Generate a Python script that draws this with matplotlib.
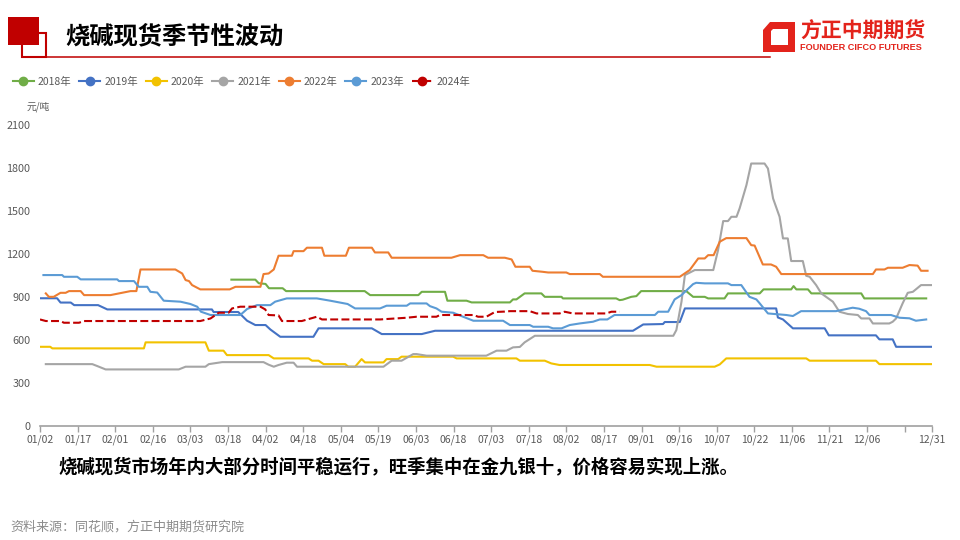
import matplotlib
matplotlib.use("Agg")
import matplotlib.pyplot as plt
from matplotlib.lines import Line2D
from matplotlib.patches import Rectangle, Polygon

plt.rcParams['font.family'] = ['Noto Sans CJK SC', 'DejaVu Sans']

# x axis: trading-day index, one label every 11 days
tick_pos = [0, 11, 22, 33, 44, 55, 66, 77, 88, 99, 110, 121, 132, 143, 154, 165,
            176, 187, 198, 209, 220, 231, 242, 253, 261]
tick_labels = ["01/02", "01/17", "02/01", "02/16", "03/03", "03/18", "04/02", "04/18",
               "05/04", "05/19", "06/03", "06/18", "07/03", "07/18", "08/02", "08/17",
               "09/01", "09/16", "10/07", "10/22", "11/06", "11/21", "12/06", "", "12/31"]

# series (break points), 元/吨
x_2018 = [56, 63, 64, 66, 67, 71, 72, 95, 96.6, 110.7, 111.7, 118.5, 119.2, 124.8, 126.3,
          137.5, 138.4, 139.4, 141.8, 146.7, 147.7, 152.6, 153, 168.6, 169.6, 170.5, 173,
          174.5, 175.9, 189.1, 191.1, 194.5, 195.5, 200.3, 201.3, 210.6, 211.7, 219.8,
          220.5, 221.3, 224.7, 225.7, 240.3, 241.2, 259.3]
y_2018 = [1020, 1020, 995, 990, 960, 960, 940, 940, 912, 912, 935, 935, 873, 873, 861,
          861, 882, 882, 924, 924, 900, 900, 889, 889, 877, 880, 900,
          905, 940, 940, 900, 900, 889, 889, 924, 924, 952, 952,
          975, 952, 952, 924, 924, 889, 889]

x_2019 = [0, 5, 6, 9, 10, 17, 19.7, 50.3, 50.8, 58, 60.6, 63, 66, 67.4, 70.3, 80, 81.5,
          97.1, 100, 111.7, 115.6, 173.5, 176.5, 182.3, 182.8, 187.2, 188.7, 215.4, 215.9,
          217.4, 220.3, 229.6, 230.8, 244.6, 245.6, 249.5, 250.5, 260.7]
y_2019 = [890, 890, 860, 860, 842, 842, 812, 812, 794, 794, 733, 703, 703, 672, 621, 621, 680,
          680, 640, 640, 663, 663, 707, 710, 724, 724, 819, 819, 756,
          742, 680, 680, 631, 631, 603, 603, 551, 551]

x_2020 = [0, 3, 3.6, 30.4, 30.9, 48.4, 49.4, 53.7, 54.7, 66.9, 68.4, 78.6, 79.6, 81.5, 83,
          89.3, 90.2, 92.2, 94.1, 95.1, 100.5, 101.4, 104.8, 105.8, 120.9, 121.9, 139.4,
          140.4, 147.7, 149.6, 152, 178.4, 180.4, 197.4, 198.9, 200.8, 224.2, 225.2,
          244.6, 245.6, 260.7]
y_2020 = [551, 551, 540, 540, 582, 582, 524, 524, 493, 493, 470, 470, 454, 454, 430,
          430, 412, 412, 465, 442, 442, 465, 465, 482, 482, 470, 470,
          454, 454, 435, 424, 424, 412, 412, 428, 470, 470, 454,
          454, 430, 430]

x_2021 = [1.7, 15.3, 16.7, 19.2, 40.6, 42.6, 48.4, 49.4, 53.3, 65.4, 66.9, 68.4, 69.8, 72.2,
          74.2, 75.2, 100.5, 102.9, 105.8, 109.2, 110.2, 113.1, 130.6, 133.6, 136.5, 138.4,
          140.4, 141.8, 144.8, 185.3, 186.2, 187.7, 188.7, 191.6, 197, 198.4, 199.9, 201.3,
          202.3, 203.8, 204.7, 206.7, 208.1, 212, 213, 214.5, 216.4, 217.4, 218.8, 219.8,
          223.2, 224.2, 225.2, 227.1, 228.6, 230, 232, 233.9, 236.4, 239.3, 240.3, 242.7,
          243.7, 248.5, 249.5, 250.5, 252.4, 253.9, 255.4, 257.8, 260.7]
y_2021 = [430, 430, 417, 393, 393, 412, 412, 430, 444, 444, 426, 412, 424, 440,
          440, 412, 412, 454, 454, 500, 500, 489, 489, 524, 524, 547,
          550, 582, 628, 628, 668, 866, 1052, 1087, 1087, 1226, 1429, 1429,
          1459, 1459, 1517, 1680, 1831, 1831, 1796, 1587, 1459, 1308, 1308, 1150,
          1150, 1047, 1040, 982, 924, 900, 866, 796, 780, 773, 749, 749,
          714, 714, 726, 749, 854, 928, 935, 982, 982]

x_2022 = [1.7, 2.6, 4, 6, 7.5, 8.5, 11.9, 12.9, 20.6, 26.5, 28.2, 29.4, 39.6, 41.6, 42.6,
          43.6, 44.5, 46.9, 55.5, 57.2, 64.5, 65.4, 66.9, 68.4, 69.8, 73.7, 74.2, 77.1, 78.1,
          82.5, 83.2, 89.5, 90.4, 97.1, 98, 101.9, 102.9, 120.4, 122.9, 129.7, 131.1, 136,
          138, 139.1, 143.3, 144.1, 147, 148.7, 154, 155, 163.8, 164.7, 187.2, 190.1, 192.6,
          194.5, 195.5, 197.1, 198.9, 200.8, 206.7, 208.1, 209.1, 211.5, 213.9, 215.4,
          216.9, 243.7, 244.6, 247.1, 248.1, 252.4, 254.4, 256.8, 257.8, 259.7]
y_2022 = [924, 900, 900, 928, 928, 940, 940, 912, 912, 940, 940, 1091, 1091, 1063, 1017,
          1010, 982, 952, 952, 970, 970, 1059, 1063, 1091, 1187, 1187, 1219, 1219, 1243,
          1243, 1187, 1187, 1243, 1243, 1210, 1210, 1173, 1173, 1191, 1191, 1173, 1173,
          1161, 1110, 1110, 1082, 1075, 1070, 1070, 1059, 1059, 1040, 1040, 1087, 1168,
          1168, 1191, 1191, 1285, 1310, 1310, 1261, 1258, 1126, 1126, 1110,
          1059, 1059, 1091, 1091, 1103, 1103, 1122, 1118, 1082, 1082]

x_2023 = [1, 6.5, 7, 10.9, 11.9, 22.6, 23.1, 27.5, 28.9, 31.4, 32.3, 34.3, 36.2, 41.1, 44,
          46, 47.1, 49.9, 58.6, 60.6, 63.5, 67.4, 68.8, 72.2, 76.1, 81, 84.9, 88, 90, 92.2,
          99.5, 101.4, 107.3, 108.3, 113.1, 114.1, 116, 117.5, 120.9, 123.8, 126.8, 135.5,
          137.5, 143.3, 144.3, 148.7, 150.1, 152.6, 155, 157.9, 161.8, 163.8, 166, 168.1,
          175.5, 179.9, 180.9, 183.8, 185.7, 187.7, 191.1, 192, 194.5, 201.3, 202.3, 205.2,
          207.6, 209.6, 210.6, 213, 218.4, 220.3, 222.7, 232.9, 237.8, 239.7, 241.7, 242.7,
          249, 251.5, 254.4, 256.3, 259.3]
y_2023 = [1052, 1052, 1040, 1040, 1022, 1022, 1010, 1010, 970, 970, 935, 930, 873, 866, 850,
          831, 796, 773, 773, 815, 842, 842, 866, 889, 889, 889, 873, 859, 850, 819,
          819, 838, 838, 854, 854, 835, 819, 796, 789, 761, 733, 733,
          703, 703, 691, 691, 680, 680, 703, 714, 726, 742, 742, 773,
          773, 773, 796, 796, 882, 912, 989, 998, 994, 994, 982, 982,
          900, 882, 854, 784, 773, 766, 800, 800, 824, 817, 800, 773,
          773, 754, 750, 733, 742]

x_2024 = [0, 1.7, 6, 7, 11.4, 12.9, 46.9, 49.9, 52.3, 55.2, 56.2, 58.6, 64.5, 65.9, 66.9,
          69.8, 70.8, 76.6, 81, 82.5, 99.5, 107.3, 110.2, 116, 117, 126.8, 128.2, 130.6,
          133.1, 136, 137.5, 143.3, 145.3, 152, 153.5, 155.9, 165.7, 167.2, 169.6]
y_2024 = [742, 731, 731, 719, 719, 731, 731, 749, 789, 789, 819, 831, 831, 812, 773,
          770, 731, 731, 761, 742, 742, 754, 761, 761, 773, 773, 761, 761,
          794, 797, 800, 800, 784, 784, 796, 784, 784, 796, 796]

series = [
    ("2018年", x_2018, y_2018, "#70AD47", "-"),
    ("2019年", x_2019, y_2019, "#4472C4", "-"),
    ("2020年", x_2020, y_2020, "#F2C200", "-"),
    ("2021年", x_2021, y_2021, "#A5A5A5", "-"),
    ("2022年", x_2022, y_2022, "#ED7D31", "-"),
    ("2023年", x_2023, y_2023, "#5B9BD5", "-"),
    ("2024年", x_2024, y_2024, "#C00000", (0, (3.8, 1.6))),
]

W, H = 960, 540
fig = plt.figure(figsize=(9.6, 5.4), dpi=100)

# decoration layer in pixel coordinates
deco = fig.add_axes([0, 0, 1, 1])
deco.set_xlim(0, W)
deco.set_ylim(H, 0)
deco.axis("off")
red = "#C00000"
deco.add_patch(Rectangle((22, 33), 24, 24, fill=False, edgecolor=red, lw=1.5, zorder=1))
deco.add_patch(Rectangle((8, 17), 31, 28, facecolor=red, edgecolor="none", zorder=2))
deco.plot([46, 770], [57, 57], color=red, lw=1.1)
deco.text(65, 36, "烧碱现货季节性波动", fontsize=17.5, fontweight="bold", va="center", ha="left")

# company logo
logo_red = "#E3231B"
deco.add_patch(Polygon([(770, 22), (795, 22), (795, 52), (763, 52), (763, 30)],
                       closed=True, facecolor=logo_red, edgecolor="none"))
deco.add_patch(Polygon([(773, 29), (788, 29), (788, 45), (771, 45), (771, 31)],
                       closed=True, facecolor="white", edgecolor="none"))
deco.text(800, 31, "方正中期期货", fontsize=15, fontweight="bold", color=logo_red,
          va="center", ha="left")
deco.text(800, 47, "FOUNDER CIFCO FUTURES", fontsize=6.6, fontweight="bold",
          color=logo_red, va="center", ha="left", family="Liberation Sans")

deco.text(27, 107, "元/吨", fontsize=7, color="#595959", va="center", ha="left")
deco.text(58, 467, "烧碱现货市场年内大部分时间平稳运行，旺季集中在金九银十，价格容易实现上涨。",
          fontsize=13.25, fontweight="bold", va="center", ha="left")
deco.text(10, 527, "资料来源：同花顺，方正中期期货研究院", fontsize=9.4, color="#8C8C8C",
          va="center", ha="left")

# main chart
ax = fig.add_axes([40 / W, 1 - 425.7 / H, 892 / W, 300.7 / H])
ax.set_facecolor("none")
handles = []
for name, xs, ys, color, ls in series:
    ax.plot(xs, ys, color=color, lw=1.5, linestyle=ls)
    handles.append(Line2D([], [], color=color, lw=1.5, linestyle=ls, marker="o",
                          markersize=6, markeredgecolor=color))

ax.set_xlim(0, 261)
ax.set_ylim(0, 2100)
ax.set_yticks(range(0, 2101, 300))
ax.set_xticks(tick_pos)
ax.set_xticklabels(tick_labels)
for side in ["left", "right", "top"]:
    ax.spines[side].set_visible(False)
ax.spines["bottom"].set_color("#A0A0A0")
ax.spines["bottom"].set_linewidth(1.2)
ax.tick_params(axis="x", colors="#A0A0A0", length=4, width=1, labelsize=7.5,
               labelcolor="#595959", pad=2)
ax.tick_params(axis="y", length=0, labelsize=7.8, labelcolor="#595959", pad=7)

fig.legend(handles, [s[0] for s in series], loc="center left",
           bbox_to_anchor=(13 / W, 1 - 82 / H), ncol=7, frameon=False, fontsize=7.5,
           handlelength=2.0, handletextpad=0.4, columnspacing=0.75, borderpad=0,
           borderaxespad=0, labelcolor="#595959")

fig.savefig("out.png", dpi=100)
